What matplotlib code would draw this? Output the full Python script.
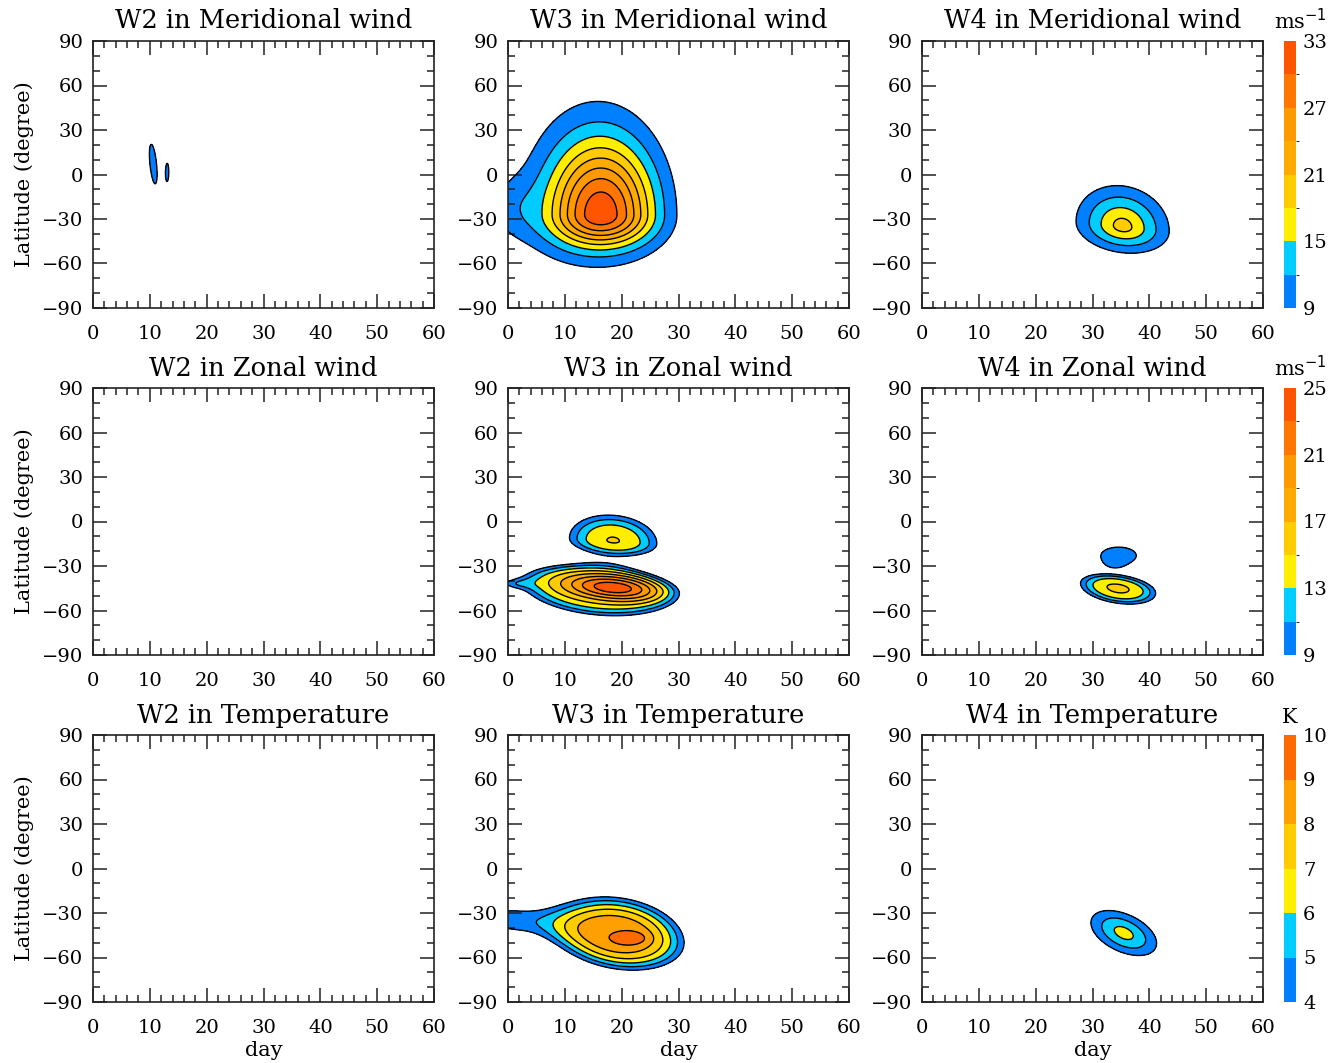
import numpy as np
import matplotlib
matplotlib.use('Agg')
import matplotlib.pyplot as plt
from matplotlib.colors import ListedColormap, BoundaryNorm
from matplotlib.colorbar import ColorbarBase
from matplotlib.ticker import MultipleLocator

plt.rcParams['font.family'] = ['DejaVu Serif']
plt.rcParams['axes.unicode_minus'] = True

# amplitude fields are built from a few blobs each:
# (centre day, centre lat, spread day, spread lat south, spread lat north, peak, drift deg/day, flatness)
v2_blobs = [(10.6, 7, 1.3, 22, 22, 10.3, -10, 1),
            (13.1, 2, 0.45, 10, 10, 9.5, 0, 1)]
v3_blobs = [(16.5, -27, 6, 14, 32, 17.5, 0, 1.1),
            (15.5, -28, 13, 34, 74, 14.5, 0, 1),
            (0, -22, 3.5, 16, 16, 3.5, 0, 1)]
v4_blobs = [(35.3, -35, 6, 13, 20, 19.5, -0.4, 0.7)]
u2_blobs = []
u3_blobs = [(18.5, -13, 7.6, 10, 17, 15.05, -0.25, 1.3),
            (16, -44.5, 13.5, 19, 15, 14, -0.3, 2.5),
            (18.5, -44.5, 6, 6, 6, 10.5, -0.3, 1),
            (0, -42, 2.5, 3, 3, 5, 0, 1)]
u4_blobs = [(34.6, -23, 4.65, 8.6, 8.6, 9.4, 0, 3),
            (34.5, -45, 6.5, 10, 9, 15.2, -0.5, 1.5)]
t2_blobs = []
t3_blobs = [(19.5, -45, 10, 20, 22, 8.7, -0.45, 1.6),
            (21.5, -47, 2, 3, 3, 1.4, 0, 1),
            (0, -34.5, 6.5, 11, 11, 4.5, -0.2, 1)]
t4_blobs = [(35.5, -43.5, 6, 14, 14, 6.4, -1.2, 0.8)]

titles = [['W2 in Meridional wind', 'W3 in Meridional wind', 'W4 in Meridional wind'],
          ['W2 in Zonal wind', 'W3 in Zonal wind', 'W4 in Zonal wind'],
          ['W2 in Temperature', 'W3 in Temperature', 'W4 in Temperature']]
fields = [[v2_blobs, v3_blobs, v4_blobs],
          [u2_blobs, u3_blobs, u4_blobs],
          [t2_blobs, t3_blobs, t4_blobs]]

v_levels = np.arange(9, 34, 3)
u_levels = np.arange(9, 26, 2)
t_levels = np.arange(4, 11, 1)
row_levels = [v_levels, u_levels, t_levels]
row_cbticks = [[9, 15, 21, 27, 33], [9, 13, 17, 21, 25], [4, 5, 6, 7, 8, 9, 10]]
row_units = ['ms$^{-1}$', 'ms$^{-1}$', 'K']

wind_colors = ['#0080ff', '#00ccff', '#ffee00', '#ffcc00', '#ffaa00', '#ff9900', '#ff7700', '#ff5500']
temp_colors = ['#0080ff', '#00ccff', '#ffee00', '#ffcc00', '#ffa000', '#ff6a00']
row_colors = [wind_colors, wind_colors, temp_colors]

days = np.linspace(0, 60, 601)
lats = np.linspace(-90, 90, 361)
D, L = np.meshgrid(days, lats)


def build_field(blobs):
    z = np.zeros_like(D)
    for d0, l0, sd, sls, sln, amp, drift, p in blobs:
        lc = l0 + drift * (D - d0)
        sl = np.where(L < lc, sls, sln)
        q = ((D - d0) / sd) ** 2 + ((L - lc) / sl) ** 2
        z += amp * np.exp(-0.5 * q ** p)
    return z


W, H = 1338, 1063
fig = plt.figure(figsize=(W / 100, H / 100), dpi=100)

col_left = [93, 508, 922]
row_top = [41, 388, 735]
aw, ah = 341, 267

for r in range(3):
    levels = row_levels[r]
    colors = row_colors[r]
    for c in range(3):
        ax = fig.add_axes([col_left[c] / W, 1 - (row_top[r] + ah) / H, aw / W, ah / H])
        z = build_field(fields[r][c])
        if z.max() > levels[0]:
            # anything above the top level keeps the top colour
            ax.contourf(days, lats, np.minimum(z, levels[-1]), levels=levels, colors=colors)
            ax.contour(days, lats, z, levels=levels[:-1], colors='k', linewidths=1.0)
        ax.set_xlim(0, 60)
        ax.set_ylim(-90, 90)
        ax.xaxis.set_major_locator(MultipleLocator(10))
        ax.xaxis.set_minor_locator(MultipleLocator(2))
        ax.yaxis.set_major_locator(MultipleLocator(30))
        ax.yaxis.set_minor_locator(MultipleLocator(10))
        ax.tick_params(which='both', direction='in', top=True, right=True,
                       width=1.1, color='#222222', labelsize=14)
        ax.tick_params(axis='x', pad=12)
        ax.tick_params(axis='y', pad=7)
        ax.tick_params(which='major', length=10)
        ax.tick_params(which='minor', length=5)
        for s in ax.spines.values():
            s.set_linewidth(1.2)
            s.set_color('#222222')
        ax.set_title(titles[r][c], fontsize=18.5, pad=9)
        if c == 0:
            ax.set_ylabel('Latitude (degree)', fontsize=15, labelpad=6)
        if r == 2:
            ax.set_xlabel('day', fontsize=15, labelpad=3)

    cax = fig.add_axes([1284 / W, 1 - (row_top[r] + ah) / H, 12 / W, ah / H])
    cmap = ListedColormap(colors)
    norm = BoundaryNorm(levels, cmap.N)
    cb = ColorbarBase(cax, cmap=cmap, norm=norm, ticks=row_cbticks[r])
    cb.outline.set_visible(False)
    cax.tick_params(length=0, labelsize=14, pad=5)
    ux = 1.35 if r < 2 else 0.5
    cax.text(ux, 1.03, row_units[r], transform=cax.transAxes, fontsize=15,
             ha='center', va='bottom')

fig.savefig('out.png', dpi=100)
